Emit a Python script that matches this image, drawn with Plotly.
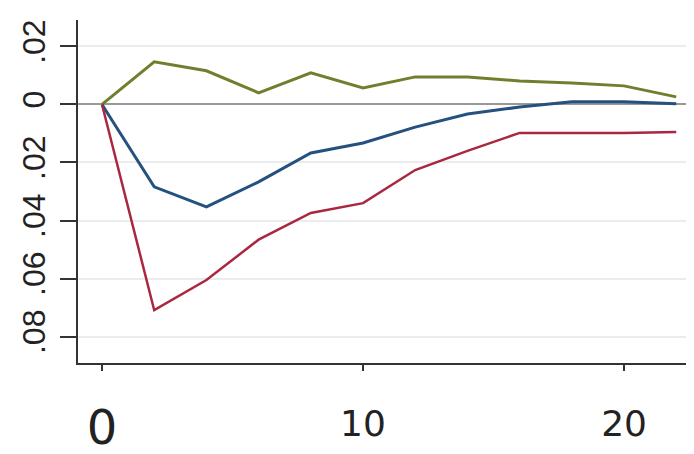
import plotly.graph_objects as go

horizon = [0, 2, 4, 6, 8, 10, 12, 14, 16, 18, 20, 22]
green_vals = [0, 0.0147, 0.0116, 0.0040, 0.0109, 0.0057, 0.0095, 0.0095, 0.0081, 0.0074, 0.0064, 0.0026]
blue_vals = [0, -0.0284, -0.0353, -0.0267, -0.0167, -0.0133, -0.0078, -0.0033, -0.0009, 0.0009, 0.0009, 0.0002]
red_vals = [0, -0.0709, -0.0605, -0.0466, -0.0374, -0.0340, -0.0226, -0.0160, -0.0098, -0.0098, -0.0098, -0.0095]

y_tickvals = [0.02, 0, -0.02, -0.04, -0.06, -0.08]
y_ticktext = [".02", "0", ".02", ".04", ".06", ".08"]
x_tickvals = [0, 10, 20]
x_ticktext = ["<span style='font-size:48px;baseline-shift:-8px'>0</span>", "10", "20"]

fig = go.Figure()
fig.add_trace(go.Scatter(x=horizon, y=green_vals, mode="lines",
                         line=dict(color="#6e8030", width=3)))
fig.add_trace(go.Scatter(x=horizon, y=blue_vals, mode="lines",
                         line=dict(color="#24517f", width=3)))
fig.add_trace(go.Scatter(x=horizon, y=red_vals, mode="lines",
                         line=dict(color="#a8283f", width=2.5)))

fig.update_layout(
    width=694, height=454,
    margin=dict(l=70, r=8, t=12, b=99),
    paper_bgcolor="white", plot_bgcolor="white",
    showlegend=False,
)
fig.update_xaxes(
    range=[-0.92, 22.68],
    tickvals=x_tickvals, ticktext=x_ticktext,
    ticks="outside", ticklen=6, tickwidth=2, tickcolor="#333",
    showline=True, linecolor="#333", linewidth=2,
    showgrid=False, zeroline=False,
    tickfont=dict(family="DejaVu Sans", size=36, color="#222"),
    ticklabelstandoff=22,
    automargin=False,
)
fig.update_yaxes(
    range=[-0.0891, 0.0291],
    tickvals=y_tickvals, ticktext=y_ticktext,
    tickangle=-90,
    ticks="outside", ticklen=16, tickwidth=2, tickcolor="#333",
    showline=True, linecolor="#333", linewidth=2,
    showgrid=True, gridcolor="#ececec", gridwidth=1.5,
    zeroline=True, zerolinecolor="#999999", zerolinewidth=2,
    tickfont=dict(family="Liberation Sans", size=32, color="#222"),
    ticklabelstandoff=2,
    automargin=False,
)

fig.write_html("out.html")
